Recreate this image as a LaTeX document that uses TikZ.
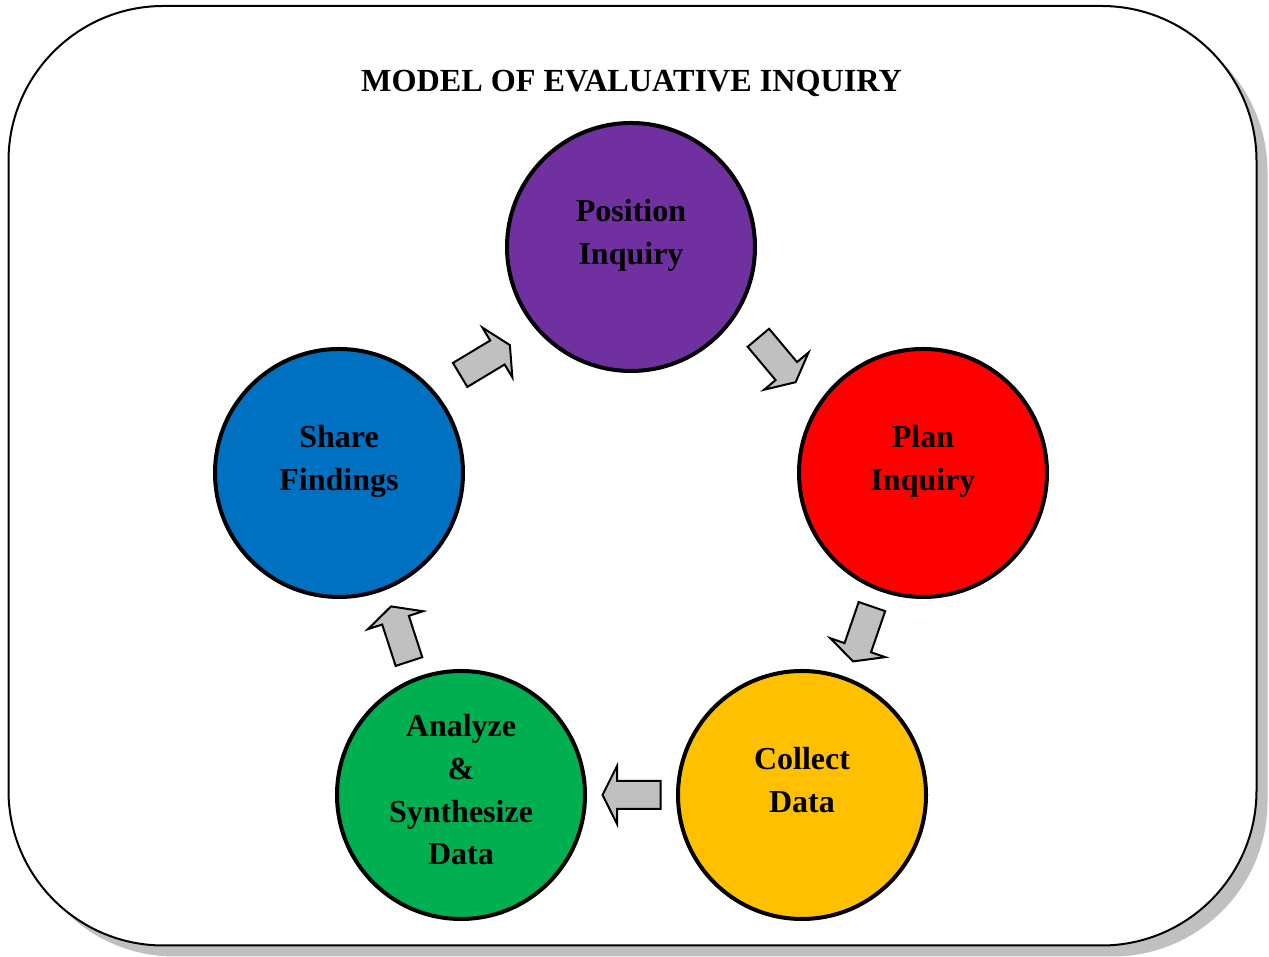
\documentclass[tikz,border=0pt]{standalone}
\usepackage{fontspec}
\setmainfont{Liberation Serif}
\usetikzlibrary{calc}

\definecolor{posviolet}{HTML}{7030A0}
\definecolor{planred}{HTML}{FF0000}
\definecolor{colgold}{HTML}{FFC000}
\definecolor{anagreen}{HTML}{00B050}
\definecolor{shareblue}{HTML}{0070C0}
\definecolor{arrowgray}{HTML}{C0C0C0}

\tikzset{
  stage/.style={circle, draw=black, line width=2pt, minimum size=124pt, inner sep=0pt},
  stagetext/.style={anchor=base, align=center, inner sep=0pt,
    font=\fontsize{16}{21.35}\selectfont\bfseries},
  arrowfill/.style={draw=black, line width=1pt, fill=arrowgray, line join=miter},
  blockarr/.pic={
    \draw[arrowfill] (-29,-14) -- (14.5,-14) -- (14.5,-29) -- (29,0)
      -- (14.5,29) -- (14.5,14) -- (-29,14) -- cycle;
  }
}

\begin{document}
\begin{tikzpicture}[x=0.5pt,y=0.5pt]
\useasboundingbox (0,0) rectangle (1269,957);

% frame with its shadow
\fill [arrowgray, rounded corners=77.5pt] (19.5,0.5) rectangle (1267.5,940);
\draw [line width=1pt, fill=white, rounded corners=77.5pt]
       (8.5,11.5) rectangle (1256.5,951);

\node [anchor=base, inner sep=0pt, font=\fontsize{16.1}{19}\selectfont\bfseries]
      (title) at (631.5,865) {MODEL OF EVALUATIVE INQUIRY};

% the five stages
\node [stage, fill=posviolet]  (pos)   at (631,710) {};
\node [stage, fill=planred]    (plan)  at (923,484) {};
\node [stage, fill=colgold]    (col)   at (802,162) {};
\node [stage, fill=anagreen]   (ana)   at (461,162) {};
\node [stage, fill=shareblue]  (share) at (339,484) {};

% base anchor sits on the last line
\node [stagetext] (postext)   at ($(pos)+(0,-17.7)$)   {Position\\Inquiry};
\node [stagetext] (plantext)  at ($(plan)+(0,-17.7)$)  {Plan\\Inquiry};
\node [stagetext] (coltext)   at ($(col)+(0,-17.7)$)   {Collect\\Data};
\node [stagetext] (anatext)   at ($(ana)+(0,-70)$)     {Analyze\\\&\\Synthesize\\Data};
\node [stagetext] (sharetext) at ($(share)+(0,-17.7)$) {Share\\Findings};

% arrows between the stages
\pic [rotate=-50]  at ($(pos)!0.5!(plan)$)   {blockarr};
\pic [rotate=-109] at ($(plan)!0.5!(col)$)   {blockarr};
\pic [rotate=180]  at ($(col)!0.5!(ana)$)    {blockarr};
\pic [rotate=108]  at ($(ana)!0.5!(share)$)  {blockarr};
\pic [rotate=31]   at ($(share)!0.5!(pos)$)  {blockarr};
\end{tikzpicture}
\end{document}
